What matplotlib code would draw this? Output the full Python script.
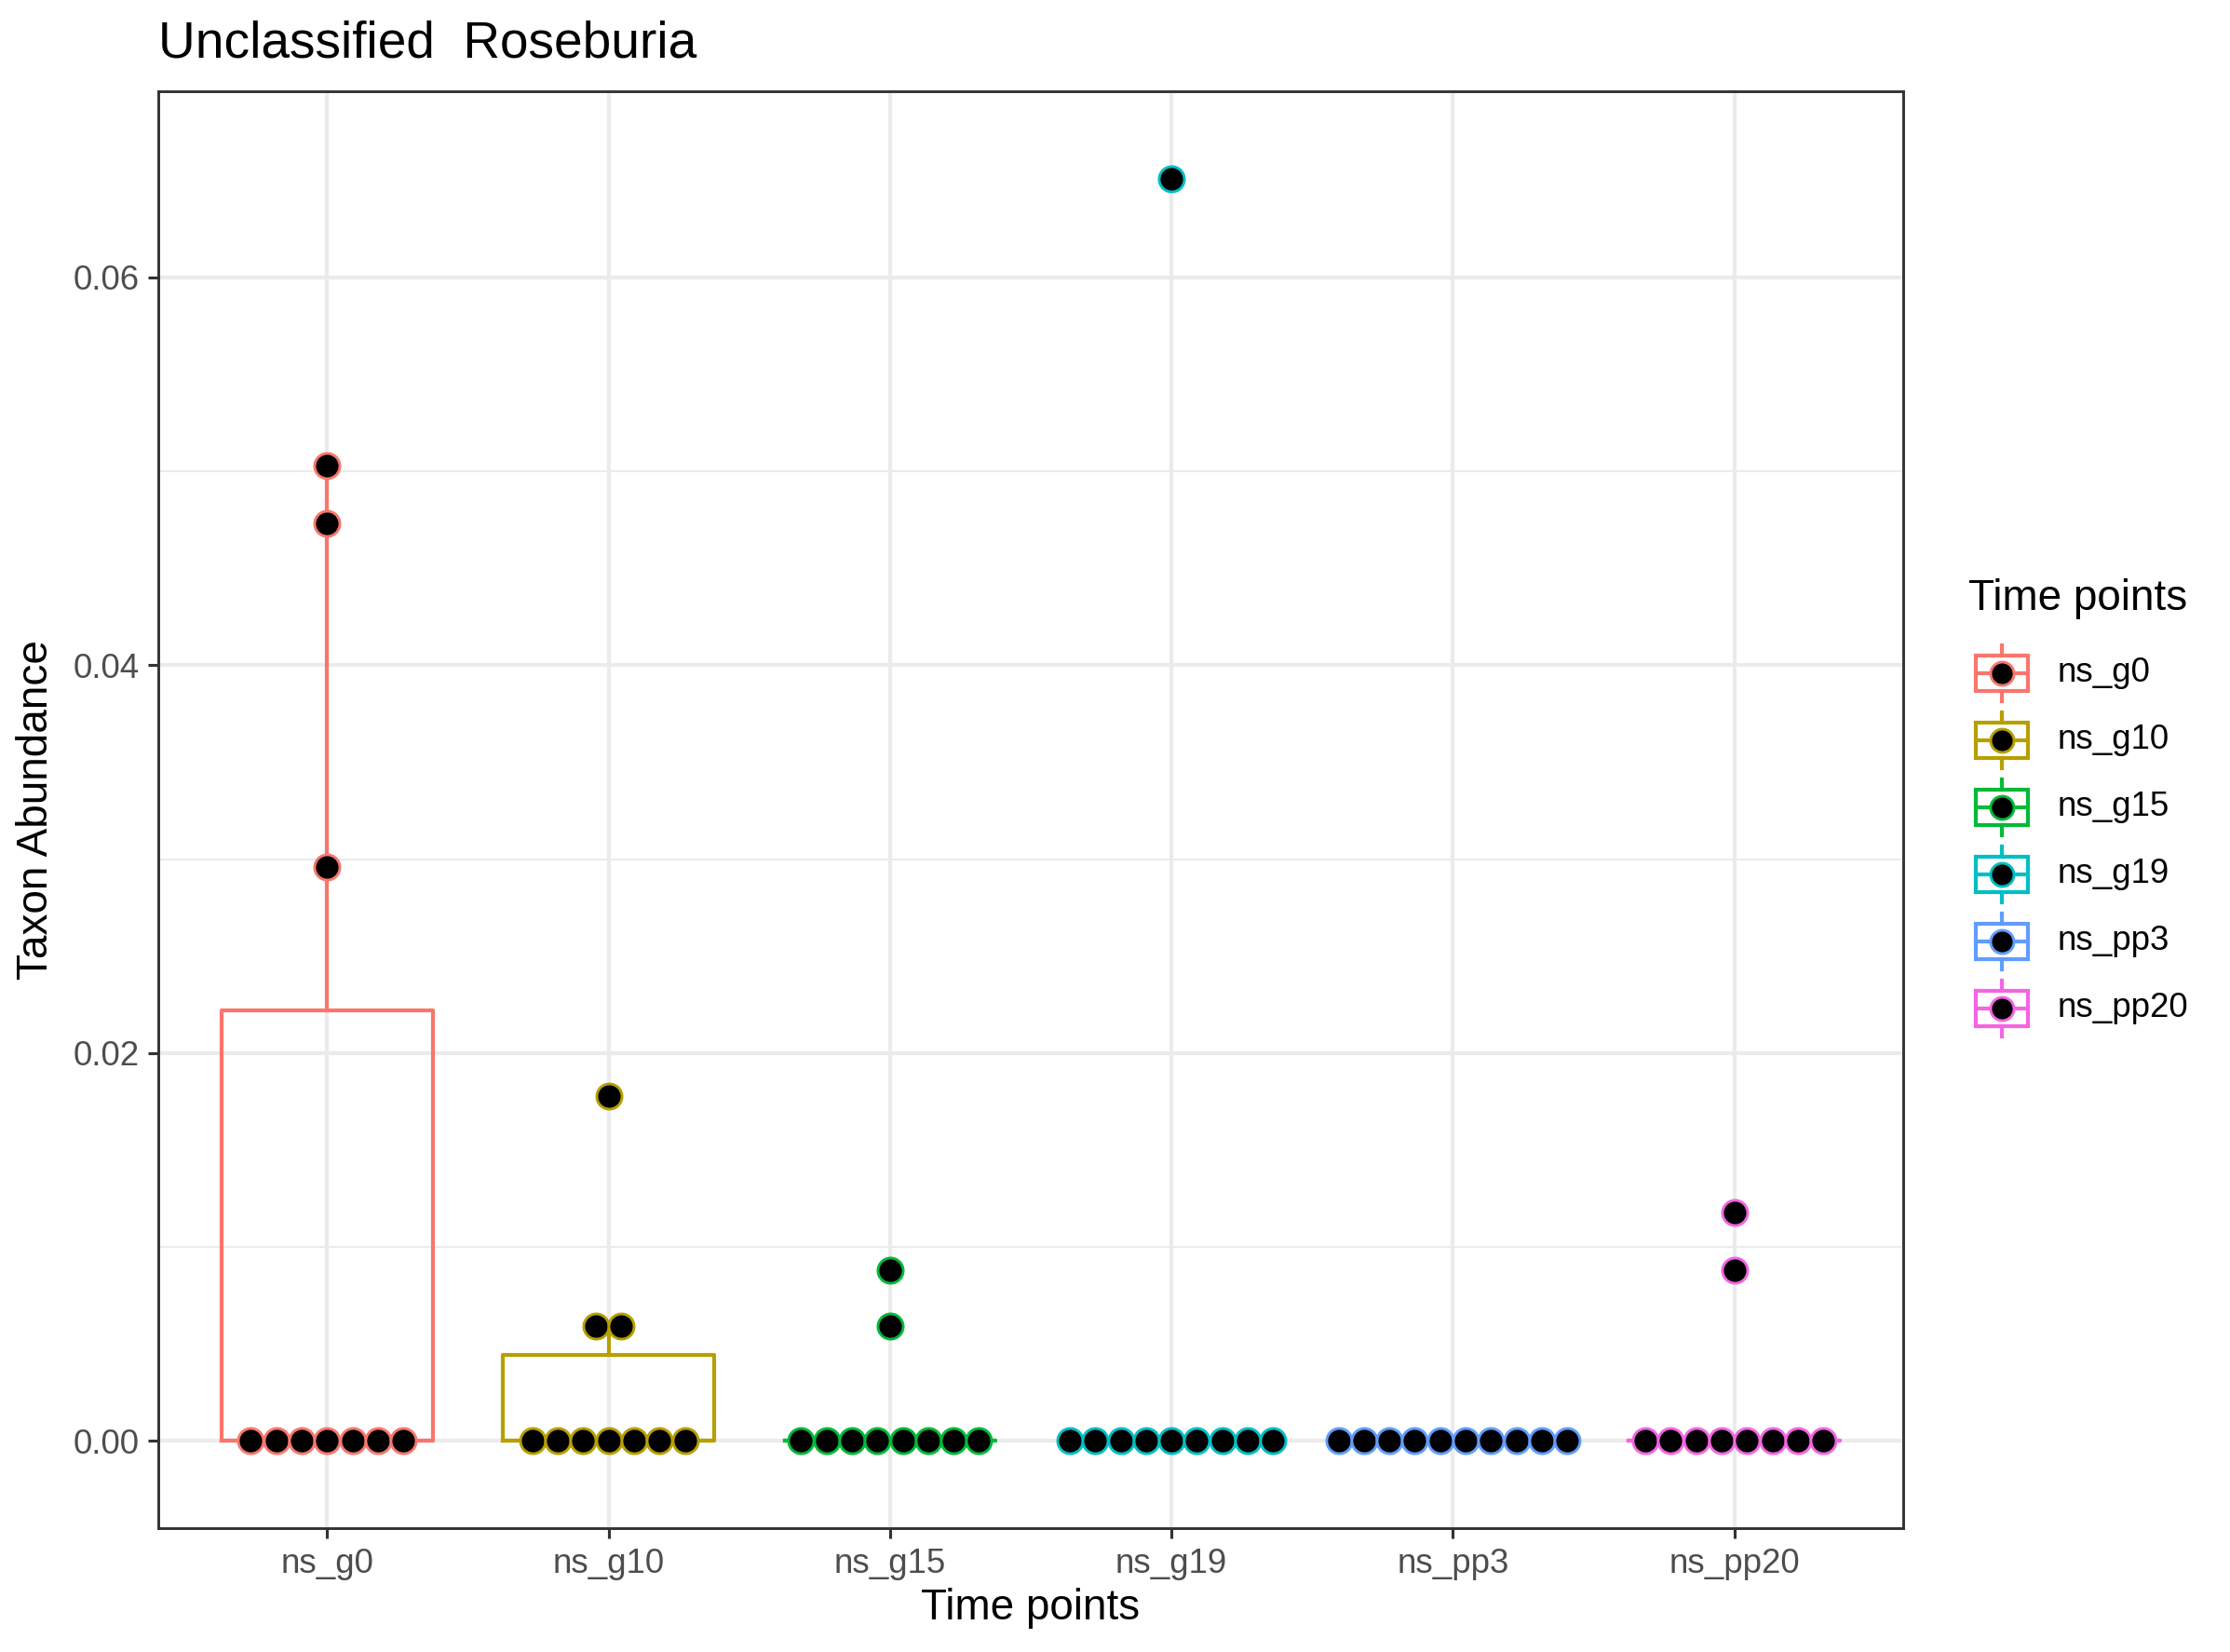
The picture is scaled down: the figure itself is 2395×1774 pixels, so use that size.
import matplotlib
matplotlib.use("Agg")
import matplotlib.pyplot as plt
from matplotlib.patches import Rectangle
from matplotlib.lines import Line2D

plt.rcParams['font.family'] = ['Liberation Sans', 'DejaVu Sans']

# Data (taxon abundance per sample)
groups = ['ns_g0', 'ns_g10', 'ns_g15', 'ns_g19', 'ns_pp3', 'ns_pp20']
ns_g0 = [0, 0, 0, 0, 0, 0, 0, 0.0296, 0.0473, 0.0503]
ns_g10 = [0, 0, 0, 0, 0, 0, 0, 0.0059, 0.0059, 0.0178]
ns_g15 = [0, 0, 0, 0, 0, 0, 0, 0, 0.0059, 0.0088]
ns_g19 = [0, 0, 0, 0, 0, 0, 0, 0, 0, 0.0651]
ns_pp3 = [0, 0, 0, 0, 0, 0, 0, 0, 0, 0]
ns_pp20 = [0, 0, 0, 0, 0, 0, 0, 0, 0.0088, 0.0118]
values = [ns_g0, ns_g10, ns_g15, ns_g19, ns_pp3, ns_pp20]
colors = ['#F8766D', '#B79F00', '#00BA38', '#00BFC4', '#619CFF', '#F564E3']

W, H, DPI = 2395, 1774, 300
fig = plt.figure(figsize=(W / DPI, H / DPI), dpi=DPI)

# panel in pixels
pl, pr, pt, pb = 170, 2044, 98, 1641
ax = fig.add_axes([pl / W, 1 - pb / H, (pr - pl) / W, (pb - pt) / H])
ax.set_xlim(0.4, 6.6)
ax.set_ylim(-0.0045, 0.0696)

# grid
for y in [0.01, 0.03, 0.05]:
    ax.axhline(y, color='#EBEBEB', lw=0.5, zorder=0)
for y in [0, 0.02, 0.04, 0.06]:
    ax.axhline(y, color='#EBEBEB', lw=1.0, zorder=0)
for x in range(1, 7):
    ax.axvline(x, color='#EBEBEB', lw=1.0, zorder=0)

pos = list(range(1, 7))
for i, (vals, c) in enumerate(zip(values, colors)):
    ax.boxplot([vals], positions=[pos[i]], widths=0.75, whis=1.5,
               showfliers=False, manage_ticks=False,
               boxprops=dict(color=c, lw=1.0),
               whiskerprops=dict(color=c, lw=1.0),
               capprops=dict(lw=0),
               medianprops=dict(color=c, lw=1.0),
               zorder=2)

# dotplot: stack equal values centred on the group
dot_px = 27.3
x_per_px = 6.2 / (pr - pl)
step = dot_px * x_per_px
for i, (vals, c) in enumerate(zip(values, colors)):
    for v in sorted(set(vals)):
        n = vals.count(v)
        xs = [pos[i] + (k - (n - 1) / 2) * step for k in range(n)]
        ax.plot(xs, [v] * n, 'o', ms=6.5, mfc='black', mec=c, mew=0.7,
                ls='none', zorder=3, clip_on=False)

ax.set_xticks(pos)
ax.set_xticklabels(groups)
ax.set_yticks([0, 0.02, 0.04, 0.06])
ax.set_yticklabels(['0.00', '0.02', '0.04', '0.06'])
ax.tick_params(length=2.75, width=0.75, color='#333333', labelcolor='#4D4D4D',
               labelsize=8.8, pad=2.2)
for s in ax.spines.values():
    s.set_color('#333333')
    s.set_linewidth(0.7)

ax.set_xlabel('Time points', fontsize=11, labelpad=2)
ax.set_ylabel('Taxon Abundance', fontsize=11, labelpad=4)
fig.text(pl / W, 1 - 62 / H, 'Unclassified  Roseburia', fontsize=13.2,
         ha='left', va='baseline')

# legend drawn in pixel coords
lg = fig.add_axes([0, 0, 1, 1])
lg.set_xlim(0, W)
lg.set_ylim(H, 0)
lg.axis('off')
lg.patch.set_alpha(0)
lg.text(2114, 643, 'Time points', fontsize=11, ha='left', va='center')
kx = 2150
for j, (g, c) in enumerate(zip(groups, colors)):
    ky = 723 + j * 72
    lg.add_patch(Rectangle((kx - 28, ky - 19), 56, 38, fill=False,
                           edgecolor=c, lw=1.0))
    lg.add_line(Line2D([kx - 28, kx + 28], [ky, ky], color=c, lw=1.0))
    lg.add_line(Line2D([kx, kx], [ky - 30, ky - 19], color=c, lw=1.0))
    lg.add_line(Line2D([kx, kx], [ky + 19, ky + 30], color=c, lw=1.0))
    lg.plot([kx], [ky], 'o', ms=6.0, mfc='black', mec=c, mew=0.7)
    lg.text(2210, ky, g, fontsize=8.8, ha='left', va='center')

fig.savefig('out.png', dpi=DPI)
